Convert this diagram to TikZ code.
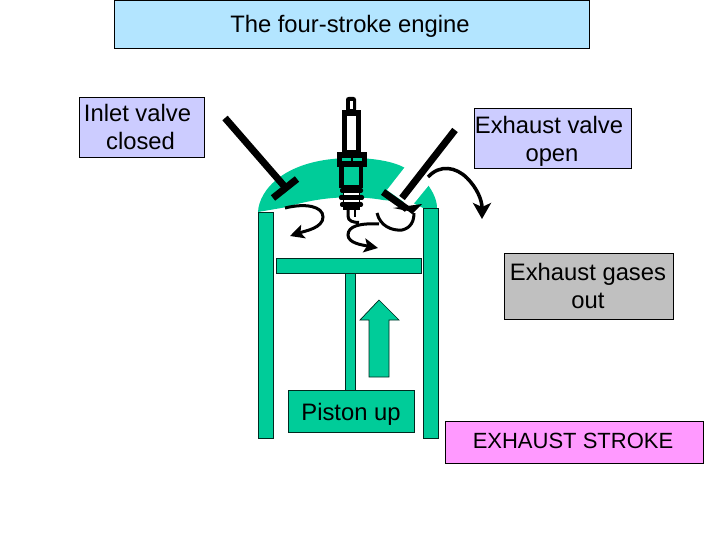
\documentclass[tikz,border=0pt]{standalone}
\usepackage{fontspec}
\setmainfont{Liberation Sans}
\usetikzlibrary{arrows.meta}
\definecolor{engine}{HTML}{00CC99}
\definecolor{lav}{HTML}{CCCCFF}
\definecolor{sky}{HTML}{B3E5FF}
\definecolor{greybox}{HTML}{C0C0C0}
\definecolor{pinkbox}{HTML}{FF99FF}
\tikzset{
  box edge/.style={draw=black,line width=0.7pt},
  label text/.style={inner sep=0pt,align=center,text=black,font=\fontsize{23.8}{28}\selectfont},
  part/.style={fill=engine,draw=black!80!engine,line width=0.7pt},
  valve/.style={line width=7pt,draw=black},
  swirl/.style={line width=3pt,draw=black,-{Stealth[length=14pt,width=14pt,inset=3pt]}},
  big swirl/.style={line width=3.5pt,draw=black,-{Stealth[length=16pt,width=18pt,inset=4pt]}},
  plug/.style={fill=black,draw=none},
}
\begin{document}
\begin{tikzpicture}[x=1pt,y=-1pt]
\useasboundingbox (0,0) rectangle (720,540);
% text boxes
\filldraw[box edge,fill=sky] (114,0) rectangle (589,48);
\node[label text] (title) at (350,26) {The four-stroke engine};
\filldraw[box edge,fill=lav] (79,97) rectangle (204,157);
\node[label text] (inlet) at (137.5,127) {Inlet valve\\\hspace*{6pt}closed};
\filldraw[box edge,fill=lav] (474,108) rectangle (631,168);
\node[label text] (exvalve) at (549,141) {Exhaust valve\\\hspace*{6pt}open};
\filldraw[box edge,fill=greybox] (504,253) rectangle (673,319);
\node[label text] (gases) at (588,286) {Exhaust gases\\out};
\filldraw[box edge,fill=pinkbox] (445,421) rectangle (703,463);
\node[label text,font=\fontsize{22}{28}\selectfont] (stroke) at (573,441) {EXHAUST STROKE};
% cylinder head
\fill[engine] (258,212) .. controls (259,190) and (285,158) .. (352,158)
  .. controls (375,158) and (395,162) .. (405,168) -- (428,185)
  .. controls (433,192) and (437,200) .. (437,208)
  -- (423,208) -- (413,203) -- (383,200) .. controls (360,196) and (325,195) .. (287,207) -- cycle;
\fill[white] (405,167) -- (429,185) -- (411,207) -- (387,190) -- cycle;
% cylinder walls
\fill[part] (258,212) rectangle (273,438);
\fill[part] (423,208) rectangle (438,438);
% piston
\fill[part] (345,273) rectangle (355,390);
\fill[part] (276,258) rectangle (421,273);
\filldraw[part] (288,390) rectangle (414,432);
\node[label text] (piston) at (351,414) {Piston up};
% direction arrow
\filldraw[part] (379,300) -- (399,320) -- (389,320) -- (389,377) -- (369,377) -- (369,320) -- (360,320) -- cycle;
% valves
\coordinate (inA) at (225,118); \coordinate (inB) at (285,187);
\coordinate (inC) at (273,198); \coordinate (inD) at (297,179);
\coordinate (exA) at (455,130); \coordinate (exB) at (402,198);
\coordinate (exC) at (383,192); \coordinate (exD) at (407,209);
\draw[valve] (inA) -- (inB);
\draw[valve] (inC) -- (inD);
\draw[valve] (exA) -- (exB);
\draw[valve] (exC) -- (exD);
% spark plug
\fill[plug,rounded corners=2.5pt] (346,97) rectangle (356,112);
\fill[white] (349.5,101) rectangle (352.5,109);
\fill[plug] (342,110) rectangle (361,152);
\fill[white] (347,116) rectangle (356,150);
\fill[plug] (337,152) rectangle (367,167);
\fill[engine] (342,158) rectangle (351,161);
\fill[engine] (353,158) rectangle (362,161);
\fill[plug] (339,167) rectangle (363,188);
\fill[engine] (344,167) rectangle (359,185);
\fill[plug] (343,186) rectangle (360,210);
\fill[plug,rounded corners=2pt] (340,188) rectangle (363,193);
\fill[plug,rounded corners=2pt] (339,195) rectangle (364,200);
\fill[plug,rounded corners=2pt] (340,202) rectangle (363,207);
\fill[white] (344,193) rectangle (359,195);
\fill[white] (344,200) rectangle (359,202);
\draw[line width=3pt,draw=black] (348,209) -- (348,216) .. controls (348,221) and (353,222.5) .. (359,222.5);
\draw[line width=2.5pt,draw=black] (355,209) -- (355,217);
% swirls
\coordinate (s1a) at (285,208); \coordinate (s1b) at (290,236);
\coordinate (s2a) at (379,224); \coordinate (s2b) at (378,248);
\coordinate (s3a) at (377,213); \coordinate (s3b) at (414,213);
\coordinate (s4a) at (428,177); \coordinate (s4b) at (482,219);
\draw[swirl] (s1a) .. controls (305,203) and (323,206) .. (323,217) .. controls (323,228) and (305,231) .. (s1b);
\draw[swirl] (s2a) .. controls (360,223) and (348,226) .. (348,235) .. controls (348,243) and (362,245) .. (s2b);
\draw[line width=3pt,draw=black] (s3a) .. controls (380,226) and (392,231) .. (402,230) .. controls (411,228) and (414,221) .. (s3b);
\fill[black] (393,208) -- (422,204) -- (412,214) -- (408,211) -- cycle;
\draw[big swirl] (s4a) .. controls (440,164) and (456,167) .. (467,178) .. controls (477,188) and (482,200) .. (s4b);
\end{tikzpicture}
\end{document}
